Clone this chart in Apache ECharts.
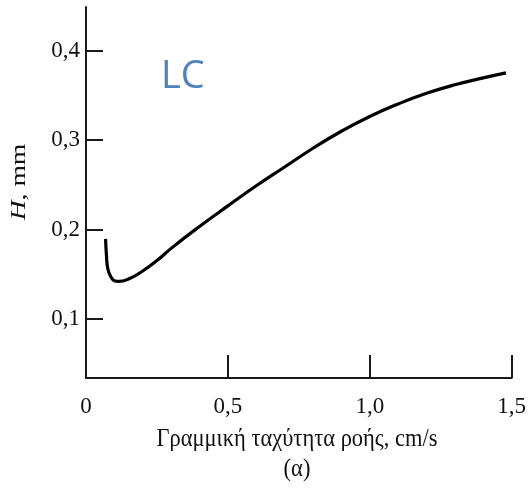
<!DOCTYPE html>
<html><head><meta charset="utf-8">
<script src="https://cdn.jsdelivr.net/npm/echarts@6/dist/echarts.min.js"></script>
<style>html,body{margin:0;padding:0;background:#fff}#c{width:529px;height:491px}</style>
</head><body><div id="c"></div>
<script>
// Data
const xValues = [0.069, 0.072, 0.077, 0.088, 0.100, 0.115, 0.15, 0.20, 0.25, 0.30, 0.40, 0.50, 0.60, 0.70, 0.80, 0.90, 1.00, 1.10, 1.20, 1.30, 1.40, 1.48];
const hValues = [0.1896, 0.1717, 0.1560, 0.1470, 0.1428, 0.1420, 0.1447, 0.1537, 0.1653, 0.1790, 0.2035, 0.2265, 0.2490, 0.2700, 0.2910, 0.3100, 0.3265, 0.3405, 0.3524, 0.3620, 0.3697, 0.3753];
const xTickValues = [0.5, 1.0, 1.5];
const xLabelValues = [0, 0.5, 1.0, 1.5];
const yTickValues = [0.1, 0.2, 0.3, 0.4];
const xName = 'Γραμμική ταχύτητα ροής, cm/s';
const subCaption = '(α)';
const yNameVar = 'H';
const yNameUnit = ', mm';
const annotation = 'LC';

const fmt = v => v === 0 ? '0' : v.toFixed(1).replace('.', ',');
const serif = '"Liberation Serif", "DejaVu Serif", serif';
const axisColor = '#1a1a1a';

const chart = echarts.init(document.getElementById('c'));
chart.setOption({
  animation: false,
  grid: { left: 86, right: 16, top: 7, bottom: 113 },
  xAxis: {
    type: 'value', min: 0, max: 1.5,
    axisLine: { show: true, onZero: false, lineStyle: { color: axisColor, width: 2 } },
    axisTick: { show: true, inside: true, length: 23, customValues: xTickValues, lineStyle: { color: axisColor, width: 2 } },
    axisLabel: { customValues: xLabelValues, formatter: fmt, fontFamily: serif, fontSize: 23, color: '#111', margin: 17 },
    splitLine: { show: false }
  },
  yAxis: {
    type: 'value', min: 0.034, max: 0.449,
    axisLine: { show: true, onZero: false, lineStyle: { color: axisColor, width: 2 } },
    axisTick: { show: true, inside: true, length: 17, customValues: yTickValues, lineStyle: { color: axisColor, width: 2 } },
    axisLabel: { customValues: yTickValues, formatter: fmt, fontFamily: serif, fontSize: 23, color: '#111', margin: 6 },
    splitLine: { show: false }
  },
  series: [{
    type: 'line', smooth: 0.5, symbol: 'none',
    data: xValues.map((x, i) => [x, hValues[i]]),
    lineStyle: { color: '#000', width: 3.2 }
  }],
  graphic: [
    { type: 'text', x: 19, y: 182, rotation: Math.PI / 2, scaleX: 1.15, scaleY: 0.9,
      style: { text: '{i|' + yNameVar + '}{n|' + yNameUnit + '}', align: 'center', verticalAlign: 'middle',
        fontFamily: serif, fontSize: 24, fontWeight: 'normal', fill: '#111',
        rich: {
          i: { fontStyle: 'italic', fontWeight: 'normal', fontFamily: serif, fontSize: 24, fill: '#111' },
          n: { fontStyle: 'normal', fontWeight: 'normal', fontFamily: serif, fontSize: 24, fill: '#111' }
        } } },
    { type: 'text', x: 297, y: 439, scaleY: 1.15,
      style: { text: xName, align: 'center', verticalAlign: 'middle', fontFamily: serif, fontSize: 22.5, fontWeight: 'normal', fill: '#111' } },
    { type: 'text', x: 297, y: 469, scaleY: 1.15,
      style: { text: subCaption, align: 'center', verticalAlign: 'middle', fontFamily: serif, fontSize: 22.5, fontWeight: 'normal', fill: '#111' } },
    { type: 'text', x: 161, y: 77,
      style: { text: annotation, align: 'left', verticalAlign: 'middle', fontFamily: '"Open Sans", "Noto Sans", sans-serif', fontSize: 38, fontWeight: 'normal', fill: '#4F81BD' } }
  ]
});
</script></body></html>
